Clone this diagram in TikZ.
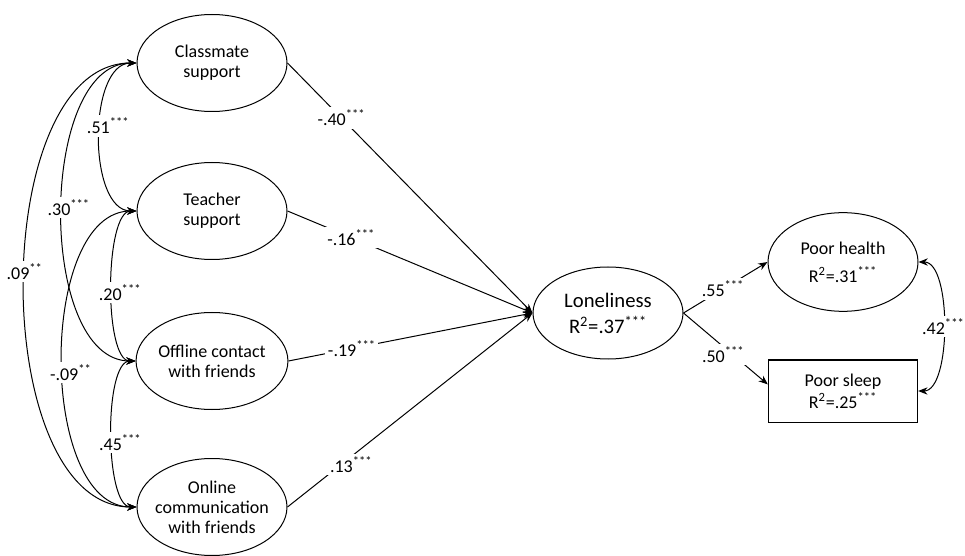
\documentclass[tikz,border=0pt]{standalone}
\usepackage{fontspec}
\setmainfont{Carlito}
\usetikzlibrary{arrows.meta,shapes.geometric}

\tikzset{every picture/.style={line width=0.75pt}}

\begin{document}
\begin{tikzpicture}[x=0.75pt,y=0.75pt,yscale=-1,xscale=1,
	font=\fontsize{13.5}{15}\selectfont,
	latent/.style={draw,ellipse,align=center,inner sep=0pt,minimum width=112.5pt,minimum height=72.75pt},
	observed/.style={draw,rectangle,align=center,minimum width=112pt,minimum height=46.5pt},
	regpath/.style={-{Stealth[length=7pt,width=5.5pt]}},
	covpath/.style={{Stealth[length=7pt,width=5.5pt]}-{Stealth[length=7pt,width=5.5pt]}},
	coef/.style={fill=white,inner sep=2pt}]
	\useasboundingbox (0,0) rectangle (965,556);

	%Shape: Ellipse
	\node[latent] (classmate) at (212,63) {Classmate\\support};
	%Shape: Ellipse
	\node[latent] (teacher) at (212,211) {Teacher\\support};
	%Shape: Ellipse
	\node[latent] (offline) at (212,361) {Offline contact\\with friends};
	%Shape: Ellipse
	\node[latent,inner xsep=-5pt] (online) at (212,507) {Online\\communication\\with friends};
	%Shape: Ellipse
	\node[latent,minimum height=69pt,font=\fontsize{15.5}{19.5}\selectfont] (lonely) at (608,313) {Loneliness\\R\textsuperscript{2}=.37\textsuperscript{***}};
	%Shape: Ellipse
	\node[latent,minimum height=74pt] (health) at (843,262) {Poor health\\[6pt]R\textsuperscript{2}=.31\textsuperscript{***}};
	%Shape: Rectangle
	\node[observed] (sleep) at (843,391) {Poor sleep\\[1.5pt]R\textsuperscript{2}=.25\textsuperscript{***}};

	%Straight Lines
	\draw[regpath] (classmate.east) -- node[coef,pos=0.22] {-.40\textsuperscript{***}} (lonely.west);
	\draw[regpath] (teacher.east) -- node[coef,pos=0.26] {-.16\textsuperscript{***}} (lonely.west);
	\draw[regpath] (offline.east) -- node[coef,pos=0.26] {-.19\textsuperscript{***}} (lonely.west);
	\draw[regpath] (online.east) -- node[coef,pos=0.26,yshift=-6pt] {.13\textsuperscript{***}} (lonely.west);
	\draw[regpath] (lonely.east) -- node[coef,pos=0.47] {.55\textsuperscript{***}} (health.west);
	\draw[regpath] (lonely.east) -- node[coef,pos=0.47,yshift=-6pt] {.50\textsuperscript{***}} (sleep.175);

	%Curve Lines
	\draw[covpath] (classmate.west) to[out=180,in=180,distance=36.75pt] node[coef,pos=0.45,xshift=6pt] {.51\textsuperscript{***}} (teacher.west);
	\draw[covpath] (classmate.west) to[out=180,in=180,distance=74pt] node[coef,pos=0.49,xshift=5pt] {.30\textsuperscript{***}} (offline.west);
	\draw[covpath] (classmate.west) to[out=180,in=180,distance=112pt] node[coef,pos=0.48] {.09\textsuperscript{**}} (online.west);
	\draw[covpath] (teacher.west) to[out=180,in=180,distance=24pt] node[coef,pos=0.53,xshift=6pt] {.20\textsuperscript{***}} (offline.west);
	\draw[covpath] (teacher.west) to[out=180,in=180,distance=74pt] node[coef,pos=0.53,xshift=6pt] {-.09\textsuperscript{**}} (online.west);
	\draw[covpath] (offline.west) to[out=180,in=180,distance=24pt] node[coef,pos=0.54,xshift=6pt] {.45\textsuperscript{***}} (online.west);
	\draw[covpath] (health.east) to[out=0,in=0,distance=25pt] node[coef] {.42\textsuperscript{***}} (sleep.east);

\end{tikzpicture}
\end{document}
